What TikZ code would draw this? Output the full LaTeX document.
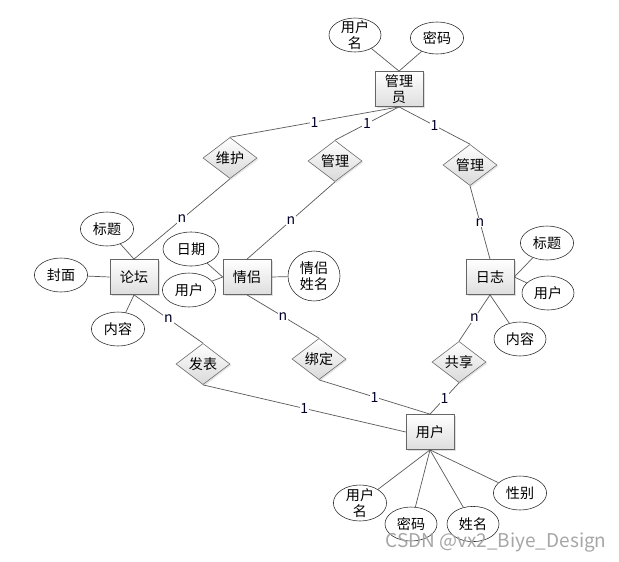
\documentclass[tikz,border=0pt]{standalone}
\usepackage{fontspec}
\setmainfont{Noto Sans CJK SC}
\usetikzlibrary{shapes.geometric,shadows}
\tikzset{
  entity/.style={draw=black!60,rectangle,minimum width=1.2cm,minimum height=0.88cm,inner sep=0pt,
    top color=white,bottom color=black!13,align=center,
    drop shadow={opacity=0.25,shadow xshift=1.2pt,shadow yshift=-1.2pt}},
  relation/.style={draw=black!60,diamond,minimum width=1.35cm,minimum height=0.78cm,inner sep=0pt,
    top color=white,bottom color=black!15,
    drop shadow={opacity=0.2,shadow xshift=1pt,shadow yshift=-1pt}},
  attr/.style={draw=black!85,ellipse,minimum width=1.33cm,minimum height=0.85cm,inner sep=0pt},
  twoline/.style={align=center,inner sep=0pt,font=\fontsize{10}{11.5}\selectfont},
  card/.style={fill=white,inner sep=0.6pt,text=black!85!blue},
  link/.style={draw=black!65,line width=0.5pt}
}
\begin{document}
\begin{tikzpicture}[x=0.025cm,y=-0.025cm,font=\fontsize{10}{11.5}\selectfont]
  \useasboundingbox (0,0) rectangle (619,561);
  \node[entity] (admin) at (399,89) {管理\\员};
  \node[entity] (forum) at (134,277) {论坛};
  \node[entity] (couple) at (247,277) {情侣};
  \node[entity] (diary) at (490,277) {日志};
  \node[entity] (user) at (430,432) {用户};
  \node[relation] (maintain) at (230,158) {维护};
  \node[relation] (manageA) at (335,161) {管理};
  \node[relation] (manageB) at (470,165) {管理};
  \node[relation] (publish) at (203,364) {发表};
  \node[relation] (bind) at (319,359) {绑定};
  \node[relation] (share) at (459,362) {共享};
  \node[attr,minimum width=1.3cm,label={[twoline]center:用户\\名}] (admname) at (355,35) {};
  \node[attr,minimum height=0.8cm] (admpwd) at (437,38) {密码};
  \node[attr] (ftitle) at (107,229) {标题};
  \node[attr] (fcover) at (61,275) {封面};
  \node[attr] (fcontent) at (118,329) {内容};
  \node[attr,minimum width=1.4cm] (cdate) at (191,249) {日期};
  \node[attr] (cuser) at (189,290) {用户};
  \node[attr,twoline,minimum width=1.3cm,minimum height=1.25cm] (cname) at (314,276) {情侣\\姓名};
  \node[attr] (dtitle) at (547,243) {标题};
  \node[attr,minimum width=1.3cm] (duser) at (548,293) {用户};
  \node[attr,minimum width=1.3cm] (dcontent) at (520,339) {内容};
  \node[attr,minimum height=0.9cm,label={[twoline]center:用户\\名}] (uname) at (360,503) {};
  \node[attr,minimum width=1.3cm] (upwd) at (411,524) {密码};
  \node[attr,minimum width=1.3cm,minimum height=0.88cm] (urealname) at (473,524) {姓名};
  \node[attr] (usex) at (520,493) {性别};
  \foreach \a/\b in {admin.north/admname,admin.north/admpwd,forum.north/ftitle,forum.west/fcover,
    forum.south/fcontent,couple.west/cdate,couple.west/cuser,couple.east/cname,diary.east/dtitle,
    diary.east/duser,diary.south/dcontent,user.south/uname,user.south/upwd,user.south/urealname,user.south/usex}
    \draw[link] (\a) -- (\b);
  \foreach \a/\b/\c in {admin.south/maintain.north/1,admin.south/manageA.north/1,admin.south/manageB.north/1,
    maintain.south/forum.north/n,manageA.south/couple.north/n,manageB.south/diary.north/n,
    forum.south/publish.north/n,couple.south/bind.north/n,diary.south/share.north/n,
    publish.south/user.west/1,bind.south/user.north/1,share.south/user.north/1}
    \draw[link] (\a) -- node[card] {\c} (\b);
  \node[text=black!35,font=\fontsize{13.5}{14}\selectfont] (mark) at (496,543) {CSDN @vx2\_Biye\_Design};
\end{tikzpicture}
\end{document}
